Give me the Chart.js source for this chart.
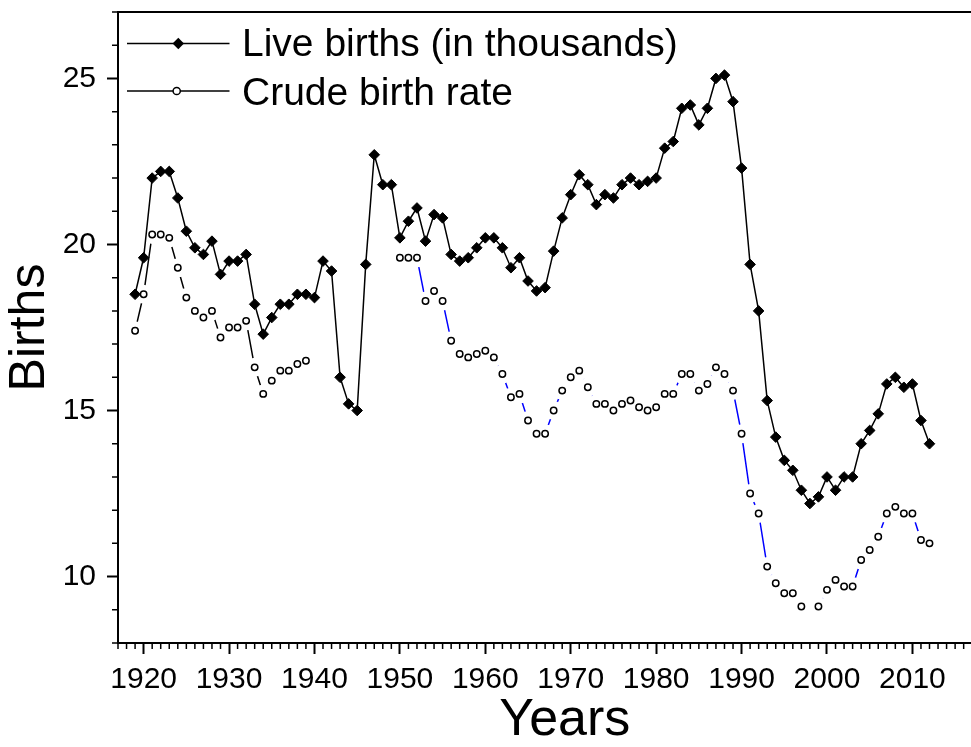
<!DOCTYPE html>
<html>
<head>
<meta charset="utf-8">
<script src="https://cdn.jsdelivr.net/npm/chart.js@4.4.1/dist/chart.umd.min.js"></script>
<style>
  html, body { margin:0; padding:0; background:#fff; overflow:hidden; }
  #wrap { position:relative; width:971px; height:747px; overflow:hidden; }
  #c { position:absolute; left:0; top:0; }
  .leg { position:absolute; left:242px; font-family:'Liberation Sans', Arial, sans-serif; font-size:39px; line-height:39px; white-space:nowrap; color:#000; }
  #legsvg { position:absolute; left:0; top:0; }
</style>
</head>
<body>
<div id="wrap">
  <canvas id="c" width="1021" height="747"></canvas>
  <svg id="legsvg" width="260" height="120">
    <line x1="127" y1="43.5" x2="229.5" y2="43.5" stroke="#000" stroke-width="1.5"/>
    <polygon points="178.3,37.8 184,43.5 178.3,49.2 172.6,43.5" fill="#000"/>
    <line x1="127" y1="91" x2="229.5" y2="91" stroke="#000" stroke-width="1.5"/>
    <circle cx="176.7" cy="91" r="3.6" fill="#fff" stroke="#000" stroke-width="1.5"/>
  </svg>
  <div class="leg" style="top:23px;">Live births (in thousands)</div>
  <div class="leg" style="top:71.7px;">Crude birth rate</div>
</div>
<script>
const years = [];
for (let yr = 1919; yr <= 2012; yr++) years.push(yr);

const liveBirths = [
  18.5, 19.6, 22.0, 22.2, 22.2, 21.4, 20.4, 19.9, 19.7, 20.1, // 1919-1928
  19.1, 19.5, 19.5, 19.7, 18.2, 17.3, 17.8, 18.2, 18.2, 18.5, // 1929-1938
  18.5, 18.4, 19.5, 19.2, 16.0, 15.2, 15.0, 19.4, 22.7, 21.8, // 1939-1948
  21.8, 20.2, 20.7, 21.1, 20.1, 20.9, 20.8, 19.7, 19.5, 19.6, // 1949-1958
  19.9, 20.2, 20.2, 19.9, 19.3, 19.6, 18.9, 18.6, 18.7, 19.8, // 1959-1968
  20.8, 21.5, 22.1, 21.8, 21.2, 21.5, 21.4, 21.8, 22.0, 21.8, // 1969-1978
  21.9, 22.0, 22.9, 23.1, 24.1, 24.2, 23.6, 24.1, 25.0, 25.1, // 1979-1988
  24.3, 22.3, 19.4, 18.0, 15.3, 14.2, 13.5, 13.2, 12.6, 12.2, // 1989-1998
  12.4, 13.0, 12.6, 13.0, 13.0, 14.0, 14.4, 14.9, 15.8, 16.0, // 1999-2008
  15.7, 15.8, 14.7, 14.0                                      // 2009-2012
];

const crudeRate = [
  17.4, 18.5, 20.3, 20.3, 20.2, 19.3, 18.4, 18.0, 17.8, 18.0, // 1919-1928
  17.2, 17.5, 17.5, 17.7, 16.3, 15.5, 15.9, 16.2, 16.2, 16.4, // 1929-1938
  16.5, null, null, null, null, null, null, null, null, null, // 1939-1948
  null, 19.6, 19.6, 19.6, 18.3, 18.6, 18.3, 17.1, 16.7, 16.6, // 1949-1958
  16.7, 16.8, 16.6, 16.1, 15.4, 15.5, 14.7, 14.3, 14.3, 15.0, // 1959-1968
  15.6, 16.0, 16.2, 15.7, 15.2, 15.2, 15.0, 15.2, 15.3, 15.1, // 1969-1978
  15.0, 15.1, 15.5, 15.5, 16.1, 16.1, 15.6, 15.8, 16.3, 16.1, // 1979-1988
  15.6, 14.3, 12.5, 11.9, 10.3, 9.8, 9.5, 9.5, 9.1, null,     // 1989-1998
  9.1, 9.6, 9.9, 9.7, 9.7, 10.5, 10.8, 11.2, 11.9, 12.1,      // 1999-2008
  11.9, 11.9, 11.1, 11.0                                      // 2009-2012
];

const xTickLabels = [1920, 1930, 1940, 1950, 1960, 1970, 1980, 1990, 2000, 2010];
const yTickLabels = [10, 15, 20, 25];
const xMin = 1917, xMax = 2021.6;

const toXY = arr => years.map((yr, i) => ({ x: yr, y: arr[i] }));

Chart.defaults.font.family = "'Liberation Sans', Arial, sans-serif";
Chart.defaults.color = '#000';

const minorTicks = {
  id: 'minorTicks',
  afterDraw(chart) {
    const ctx = chart.ctx;
    const xs = chart.scales.x, ys = chart.scales.y;
    ctx.save();
    ctx.strokeStyle = '#000';
    ctx.lineWidth = 1.5;
    ctx.beginPath();
    for (let v = Math.ceil(xs.min); v <= xs.max; v++) {
      if (v % 10 === 0) continue;
      const px = xs.getPixelForValue(v);
      ctx.moveTo(px, xs.top);
      ctx.lineTo(px, xs.top + 6);
    }
    for (let v = Math.ceil(ys.min); v <= ys.max; v++) {
      if (v % 5 === 0) continue;
      const py = ys.getPixelForValue(v);
      ctx.moveTo(ys.right, py);
      ctx.lineTo(ys.right - 6, py);
    }
    ctx.stroke();
    ctx.restore();
  }
};

const noPad = s => { s.paddingTop = 0; s.paddingBottom = 0; s.paddingLeft = 0; s.paddingRight = 0; };

new Chart(document.getElementById('c'), {
  type: 'line',
  data: {
    datasets: [
      {
        label: 'Live births (in thousands)',
        data: toXY(liveBirths),
        xAxisID: 'x', yAxisID: 'y',
        order: 1,
        borderColor: '#000',
        borderWidth: 1.5,
        pointStyle: 'rectRot',
        pointRadius: 5.3,
        pointBackgroundColor: '#000',
        pointBorderColor: '#000',
        pointBorderWidth: 1,
        tension: 0
      },
      {
        label: 'Crude birth rate markers',
        data: toXY(crudeRate),
        xAxisID: 'x', yAxisID: 'y',
        order: 2,
        showLine: false,
        pointStyle: 'circle',
        pointRadius: 3.2,
        pointBackgroundColor: '#fff',
        pointBorderColor: '#000',
        pointBorderWidth: 1.5
      },
      {
        label: 'Crude birth rate gaps',
        data: toXY(crudeRate),
        xAxisID: 'x', yAxisID: 'y',
        order: 3,
        showLine: false,
        pointStyle: 'circle',
        pointRadius: 9.5,
        pointBackgroundColor: '#fff',
        pointBorderColor: '#fff',
        pointBorderWidth: 0
      },
      {
        label: 'Crude birth rate',
        data: toXY(crudeRate),
        xAxisID: 'x', yAxisID: 'y',
        order: 4,
        borderColor: '#000',
        borderWidth: 1.5,
        pointRadius: 0,
        spanGaps: false,
        tension: 0,
        segment: {
          borderColor: ctx => ctx.p0.parsed.x < 1945 ? '#000' : '#0000ff'
        }
      }
    ]
  },
  options: {
    responsive: false,
    animation: false,
    events: [],
    layout: { padding: 0 },
    plugins: { legend: { display: false }, tooltip: { enabled: false } },
    scales: {
      x: {
        type: 'linear', position: 'bottom', min: xMin, max: xMax,
        afterBuildTicks: s => { s.ticks = xTickLabels.map(v => ({ value: v })); },
        ticks: { stepSize: 10, includeBounds: false, font: { size: 30 }, color: '#000', padding: 8,
                 maxRotation: 0, autoSkip: false, callback: v => String(v) },
        grid: { drawOnChartArea: false, tickLength: 11, tickWidth: 2, tickColor: '#000' },
        border: { color: '#000', width: 2 },
        title: { display: true, text: 'Years', color: '#000', font: { size: 52, lineHeight: 1 }, padding: { top: 0, bottom: 0 } },
        afterFit: s => { s.height = 104; noPad(s); }
      },
      xTop: {
        axis: 'x', type: 'linear', position: 'top', min: xMin, max: xMax,
        ticks: { display: false },
        grid: { drawOnChartArea: false, drawTicks: false },
        border: { color: '#000', width: 2 },
        afterFit: s => { s.height = 12; noPad(s); }
      },
      y: {
        type: 'linear', position: 'left', min: 8, max: 27,
        afterBuildTicks: s => { s.ticks = yTickLabels.map(v => ({ value: v })); },
        ticks: { stepSize: 5, includeBounds: false, font: { size: 30 }, color: '#000', padding: 11 },
        grid: { drawOnChartArea: false, tickLength: 11, tickWidth: 2, tickColor: '#000' },
        border: { color: '#000', width: 2 },
        title: { display: true, text: 'Births', color: '#000', font: { size: 50, lineHeight: 1 }, padding: { top: 5.5, bottom: 0 } },
        afterFit: s => { s.width = 118; noPad(s); }
      }
    }
  },
  plugins: [minorTicks]
});
</script>
</body>
</html>
